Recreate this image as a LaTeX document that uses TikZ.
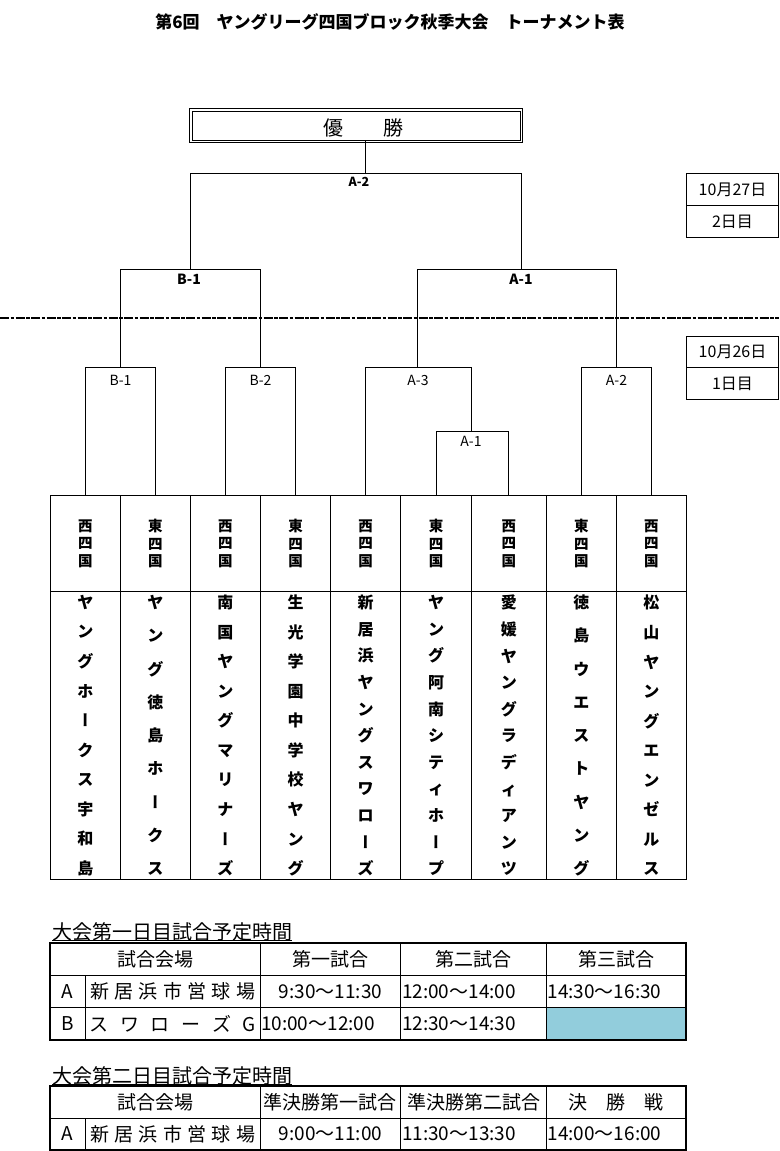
\documentclass[tikz,border=0pt]{standalone}
\usepackage{fontspec}
\setmainfont{Noto Sans CJK JP}
\newfontfamily\vjp{Noto Sans CJK JP}[RawFeature=+vert]
\newcommand\myfs[1]{\fontsize{#1}{#1}\selectfont}
\newcommand\vb{{\vjp ー}}
\newcommand\gapA{\spaceskip=5.3pt\relax}
\newcommand\gapB{\spaceskip=11.6pt\relax}
\definecolor{cellblue}{RGB}{146,205,220}
\newcommand\tcol[6]{%
  \node[regcell,minimum width={#3-#2}] (r#1) at ({(#2+#3)/2},543.5) {#4\\四\\国};
  \node[teamcell,minimum width={#3-#2},font=\bfseries\fontsize{16}{#5}\selectfont] (t#1) at ({(#2+#3)/2},735.5) {#6};
}
\begin{document}
\begin{tikzpicture}[x=1pt,y=-1pt,line width=1pt,
  lab/.style={inner sep=0pt,outer sep=0pt},
  ublab/.style={lab,font=\bfseries\myfs{14}},
  lblab/.style={lab,font=\myfs{14}},
  datebox/.style={draw,minimum width=92,minimum height=32,inner sep=0pt,outer sep=0pt,font=\myfs{16}},
  regcell/.style={draw,inner sep=0pt,outer sep=0pt,minimum height=96,align=center,font=\bfseries\fontsize{14.5}{17.5}\selectfont},
  teamcell/.style={draw,inner sep=0pt,outer sep=0pt,minimum height=288,align=center},
  tt/.style={lab,font=\myfs{20},anchor=west},
  tc/.style={lab,font=\myfs{19}},
  tcw/.style={tc,anchor=west},
  thick border/.style={line width=2pt}
]
\useasboundingbox (0,0) rectangle (779,1151);

% title
\node[lab,font=\bfseries\myfs{17}] (title) at (390,22) {第6回　ヤングリーグ四国ブロック秋季大会　トーナメント表};

% champion box
\node[draw,double,double distance=1.5pt,minimum width=330.5,minimum height=31.5,inner sep=0pt,outer sep=0pt] (champ) at (356,125.5) {};
\node[lab,font=\myfs{20}] (champt) at (363,127.5) {優　　勝};

% team table
\tcol{1}{50.3}{120.4}{西}{29.56}{ヤ\\ン\\グ\\ホ\\\vb\\ク\\ス\\宇\\和\\島}
\tcol{2}{120.4}{190.4}{東}{33.25}{ヤ\\ン\\グ\\徳\\島\\ホ\\\vb\\ク\\ス}
\tcol{3}{190.4}{260.5}{西}{29.56}{南\\国\\ヤ\\ン\\グ\\マ\\リ\\ナ\\\vb\\ズ}
\tcol{4}{260.5}{330.6}{東}{29.56}{生\\光\\学\\園\\中\\学\\校\\ヤ\\ン\\グ}
\tcol{5}{330.6}{400.7}{西}{26.6}{新\\居\\浜\\ヤ\\ン\\グ\\ス\\ワ\\ロ\\\vb\\ズ}
\tcol{6}{400.7}{471.3}{東}{26.6}{ヤ\\ン\\グ\\阿\\南\\シ\\テ\\ィ\\ホ\\\vb\\プ}
\tcol{7}{471.3}{546.3}{西}{26.6}{愛\\媛\\ヤ\\ン\\グ\\ラ\\デ\\ィ\\ア\\ン\\ツ}
\tcol{8}{546.3}{616.3}{東}{33.25}{徳\\島\\ウ\\エ\\ス\\ト\\ヤ\\ン\\グ}
\tcol{9}{616.3}{686.4}{西}{29.56}{松\\山\\ヤ\\ン\\グ\\エ\\ン\\ゼ\\ル\\ス}

% bracket junctions
\coordinate (qB1) at (120.7,367.5);
\coordinate (qB2) at (260.3,367.5);
\coordinate (qA3) at (417.8,367.5);
\coordinate (qA2) at (616.5,367.5);
\coordinate (mA1) at (471.3,431.5);
\coordinate (sB) at (190.7,269.5);
\coordinate (sA) at (521.3,269.5);
\coordinate (fin) at (365.5,173.5);

\draw (r1.north) |- (qB1) -| (r2.north);
\draw (r3.north) |- (qB2) -| (r4.north);
\draw (r6.north) |- (mA1) -| (r7.north);
\draw (r5.north) |- (qA3) -| (mA1);
\draw (r8.north) |- (qA2) -| (r9.north);
\draw (qB1) |- (sB) -| (qB2);
\draw (qA3) |- (sA) -| (qA2);
\draw (sB) |- (fin) -| (sA);
\draw (champ.south -| fin) -- (fin);

% match labels
\node[lab,font=\bfseries\myfs{12.5}] (lA2) at (359,182) {A-2};
\node[ublab] (lB1u) at (189,279) {B-1};
\node[ublab] (lA1u) at (521,279) {A-1};
\node[lblab] (lB1) at (120.5,380) {B-1};
\node[lblab] (lB2) at (260.5,380) {B-2};
\node[lblab] (lA3) at (418,380) {A-3};
\node[lblab] (lA2b) at (616.5,380) {A-2};
\node[lblab] (lA1) at (471,441) {A-1};

% day separator
\coordinate (dL) at (0,318);
\coordinate (dR) at (779,318);
\draw[line width=2pt,dash pattern=on 9pt off 1.5pt on 3.5pt off 1.5pt] (dL) -- (dR);

% date boxes
\node[datebox] (d27) at (732.5,189.5) {10月27日};
\node[datebox] (d2nd) at (732.5,221.5) {2日目};
\node[datebox,minimum height=31.5] (d26) at (732.5,351.75) {10月26日};
\node[datebox] (d1st) at (732.5,383.5) {1日目};

% ---------- schedule table 1 ----------
\node[tt] (ttl1) at (52,932) {大会第一日目試合予定時間};
\coordinate (u1) at (0,940.5);
\draw (ttl1.west |- u1) -- (ttl1.east |- u1);
\fill[cellblue] (546.3,1007.5) rectangle (686,1039.5);
\draw (49.5,975.5) -- (686,975.5);
\draw (49.5,1007.5) -- (686,1007.5);
\draw (85.5,975.5) -- (85.5,1039.5);
\draw (260,943) -- (260,1039.5);
\draw (400.7,943) -- (400.7,1039.5);
\draw (546.3,943) -- (546.3,1039.5);
\draw[thick border] (49.5,943) rectangle (686,1039.5);

\node[tc] (h11) at (155,959.5) {試合会場};
\node[tc] (h12) at (330.4,959.5) {第一試合};
\node[tc] (h13) at (473.5,959.5) {第二試合};
\node[tc] (h14) at (616.2,959.5) {第三試合};
\node[tc] (a10) at (67.5,991.5) {A};
\node[tc] (a11) at (172.7,991.5) {\gapA 新 居 浜 市 営 球 場};
\node[tc] (a12) at (330.4,991.5) {9:30～11:30};
\node[tcw] (a13) at (402,991.5) {12:00～14:00};
\node[tcw] (a14) at (547.5,991.5) {14:30～16:30};
\node[tc] (b10) at (67.5,1023.5) {B};
\node[tc] (b11) at (172.7,1023.5) {\gapB ス ワ ロ ー ズ G};
\node[tcw] (b12) at (261,1023.5) {10:00～12:00};
\node[tcw] (b13) at (402,1023.5) {12:30～14:30};

% ---------- schedule table 2 ----------
\node[tt] (ttl2) at (52,1075.5) {大会第二日目試合予定時間};
\coordinate (u2) at (0,1084);
\draw (ttl2.west |- u2) -- (ttl2.east |- u2);
\draw (49.5,1118) -- (686,1118);
\draw (85.5,1118) -- (85.5,1149.5);
\draw (260,1086) -- (260,1149.5);
\draw (400.7,1086) -- (400.7,1149.5);
\draw (546.3,1086) -- (546.3,1149.5);
\draw[thick border] (49.5,1086) rectangle (686,1149.5);

\node[tc] (h21) at (155,1102) {試合会場};
\node[tc] (h22) at (330.4,1102) {準決勝第一試合};
\node[tc] (h23) at (473.5,1102) {準決勝第二試合};
\node[tc] (h24) at (616.2,1102) {決　勝　戦};
\node[tc] (a20) at (67.5,1134) {A};
\node[tc] (a21) at (172.7,1134) {\gapA 新 居 浜 市 営 球 場};
\node[tc] (a22) at (330.4,1134) {9:00～11:00};
\node[tcw] (a23) at (402,1134) {11:30～13:30};
\node[tcw] (a24) at (547.5,1134) {14:00～16:00};
\end{tikzpicture}
\end{document}
